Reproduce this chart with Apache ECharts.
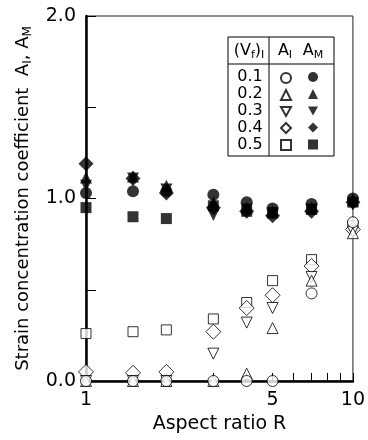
<!DOCTYPE html>
<html>
<head>
<meta charset="utf-8">
<script src="https://cdn.jsdelivr.net/npm/echarts@6/dist/echarts.min.js"></script>
<style>
  html, body { margin: 0; padding: 0; background: #fff; }
  #chart { width: 368px; height: 440px; }
</style>
</head>
<body>
<div id="chart"></div>
<script>
  // aspect ratio R (x)
  var aspectRatio = [1, 1.5, 2, 3, 4, 5, 7, 10];
  // (Vf)I fractions
  var fractions = ['0.1', '0.2', '0.3', '0.4', '0.5'];

  // A_I (open symbols)
  var aI_01 = [0, 0, 0, 0, 0, 0, 0.48, 0.87];
  var aI_02 = [0, 0, 0, 0, 0.04, 0.29, 0.55, 0.81];
  var aI_03 = [0, 0, 0, 0.15, 0.32, 0.40, 0.57, 0.82];
  var aI_04 = [0.05, 0.045, 0.05, 0.27, 0.40, 0.47, 0.63, 0.83];
  var aI_05 = [0.26, 0.27, 0.28, 0.34, 0.43, 0.55, 0.665, 0.85];

  // A_M (filled symbols)
  var aM_01 = [1.03, 1.04, 1.04, 1.02, 0.98, 0.945, 0.97, 1.0];
  var aM_02 = [1.115, 1.12, 1.07, 0.98, 0.95, 0.93, 0.95, 0.99];
  var aM_03 = [1.07, 1.11, 1.05, 0.91, 0.94, 0.92, 0.94, 0.97];
  var aM_04 = [1.19, 1.11, 1.03, 0.95, 0.93, 0.905, 0.93, 0.98];
  var aM_05 = [0.95, 0.90, 0.89, 0.96, 0.93, 0.92, 0.94, 0.98];

  var xTickValues = [1, 2, 3, 4, 5, 6, 7, 8, 9, 10];
  var xLabelValues = [1, 5, 10];
  var yLabelValues = [0, 1, 2];

  var FONT = 'DejaVu Sans, Liberation Sans, Arial, sans-serif';
  var invTriangle = 'path://M0,0L10,0L5,9Z';
  var symbols = ['circle', 'triangle', invTriangle, 'diamond', 'rect'];
  var sizeI = [11, 11, 11, 15, 10];
  var sizeM = [12, 12, 12, 15, 11];

  var chart = echarts.init(document.getElementById('chart'));

  function pairs(ys) {
    var out = [];
    for (var i = 0; i < aspectRatio.length; i++) {
      out.push([aspectRatio[i], ys[i]]);
    }
    return out;
  }

  var aIList = [aI_01, aI_02, aI_03, aI_04, aI_05];
  var aMList = [aM_01, aM_02, aM_03, aM_04, aM_05];

  var series = [];
  // open symbols, drawn 0.5 first so that circles end up on top
  for (var k = 4; k >= 0; k--) {
    series.push({
      name: 'AI ' + fractions[k],
      type: 'scatter',
      symbol: symbols[k],
      symbolSize: sizeI[k],
      itemStyle: { color: '#fff', borderColor: '#000', borderWidth: 1 },
      data: pairs(aIList[k])
    });
  }
  for (var m = 4; m >= 0; m--) {
    series.push({
      name: 'AM ' + fractions[m],
      type: 'scatter',
      symbol: symbols[m],
      symbolSize: sizeM[m],
      itemStyle: { color: '#000', borderColor: '#000', borderWidth: 0 },
      data: pairs(aMList[m])
    });
  }

  var legendTop = 72;
  var rowGap = 17;

  var subRich = {
    n: { fontSize: 18, fontFamily: FONT, color: '#000', lineHeight: 18 },
    s: { fontSize: 12, fontFamily: FONT, color: '#000', lineHeight: 12, padding: [10, 0, 0, 0] }
  };
  var tblRich = {
    n: { fontSize: 16, fontFamily: FONT, color: '#000', lineHeight: 16 },
    s: { fontSize: 11, fontFamily: FONT, color: '#000', lineHeight: 11, padding: [9, 0, 0, 0] }
  };

  //表格式图例
  var graphics = [
    { type: 'rect', shape: { x: 228, y: 37, width: 106, height: 119 },
      style: { fill: '#fff', stroke: '#000', lineWidth: 1 }, z: 10 },
    { type: 'line', shape: { x1: 228, y1: 64, x2: 334, y2: 64 },
      style: { stroke: '#000', lineWidth: 1 }, z: 11 },
    { type: 'line', shape: { x1: 269, y1: 37, x2: 269, y2: 156 },
      style: { stroke: '#000', lineWidth: 1 }, z: 11 },
    { type: 'text', x: 249, y: 51, z: 11,
      style: { text: '{n|(V}{s|f}{n|)}{s|I}', rich: tblRich, align: 'center', verticalAlign: 'middle' } },
    { type: 'text', x: 285, y: 51, z: 11,
      style: { text: '{n|A}{s|I}', rich: tblRich, align: 'center', verticalAlign: 'middle' } },
    { type: 'text', x: 313, y: 51, z: 11,
      style: { text: '{n|A}{s|M}', rich: tblRich, align: 'center', verticalAlign: 'middle' } }
  ];
  for (var r = 0; r < fractions.length; r++) {
    graphics.push({
      type: 'text', x: 250, y: legendTop + 5 + r * rowGap, z: 11,
      style: { text: fractions[r], font: '16px ' + FONT, fill: '#000',
        align: 'center', verticalAlign: 'middle' }
    });
  }

  function legendFor(prefix, left, gap) {
    return {
      orient: 'vertical',
      left: left,
      top: legendTop,
      itemWidth: 10,
      itemHeight: 10,
      itemGap: gap,
      padding: 0,
      selectedMode: false,
      z: 12,
      formatter: function () { return ''; },
      data: fractions.map(function (f) { return prefix + f; })
    };
  }

  var option = {
    backgroundColor: '#fff',
    animation: false,
    grid: {
      left: 86, right: 13, top: 16, bottom: 59,
      show: true, borderColor: '#222', borderWidth: 1
    },
    legend: [
      legendFor('AI ', 280, rowGap - 12),
      legendFor('AM ', 308, rowGap - 10)
    ],
    xAxis: {
      type: 'log',
      logBase: 10,
      min: 1,
      max: 10,
      name: 'Aspect ratio R',
      nameLocation: 'middle',
      nameGap: 34,
      nameTextStyle: { fontSize: 19, fontFamily: FONT, color: '#000' },
      axisLine: { onZero: false, lineStyle: { color: '#000', width: 2.5 } },
      axisTick: { inside: true, length: 8, customValues: xTickValues, lineStyle: { color: '#000', width: 1 } },
      axisLabel: {
        customValues: xLabelValues,
        margin: 10,
        fontSize: 19,
        fontFamily: FONT,
        color: '#000',
        formatter: function (v) { return String(v); }
      },
      splitLine: { show: false },
      minorTick: { show: false }
    },
    yAxis: {
      type: 'value',
      min: 0,
      max: 2,
      interval: 0.5,
      name: '{n|Strain concentration coefficient  A}{s|I}{n|, A}{s|M}',
      nameLocation: 'middle',
      nameGap: 54,
      nameRotate: 90,
      nameTextStyle: { rich: subRich },
      axisLine: { onZero: false, lineStyle: { color: '#000', width: 2.5 } },
      axisTick: { inside: true, length: 10, lineStyle: { color: '#000', width: 1 } },
      axisLabel: {
        customValues: yLabelValues,
        margin: 10,
        fontSize: 19,
        fontFamily: FONT,
        color: '#000',
        formatter: function (v) { return v.toFixed(1); }
      },
      splitLine: { show: false }
    },
    graphic: graphics,
    series: series
  };

  chart.setOption(option);
</script>
</body>
</html>
